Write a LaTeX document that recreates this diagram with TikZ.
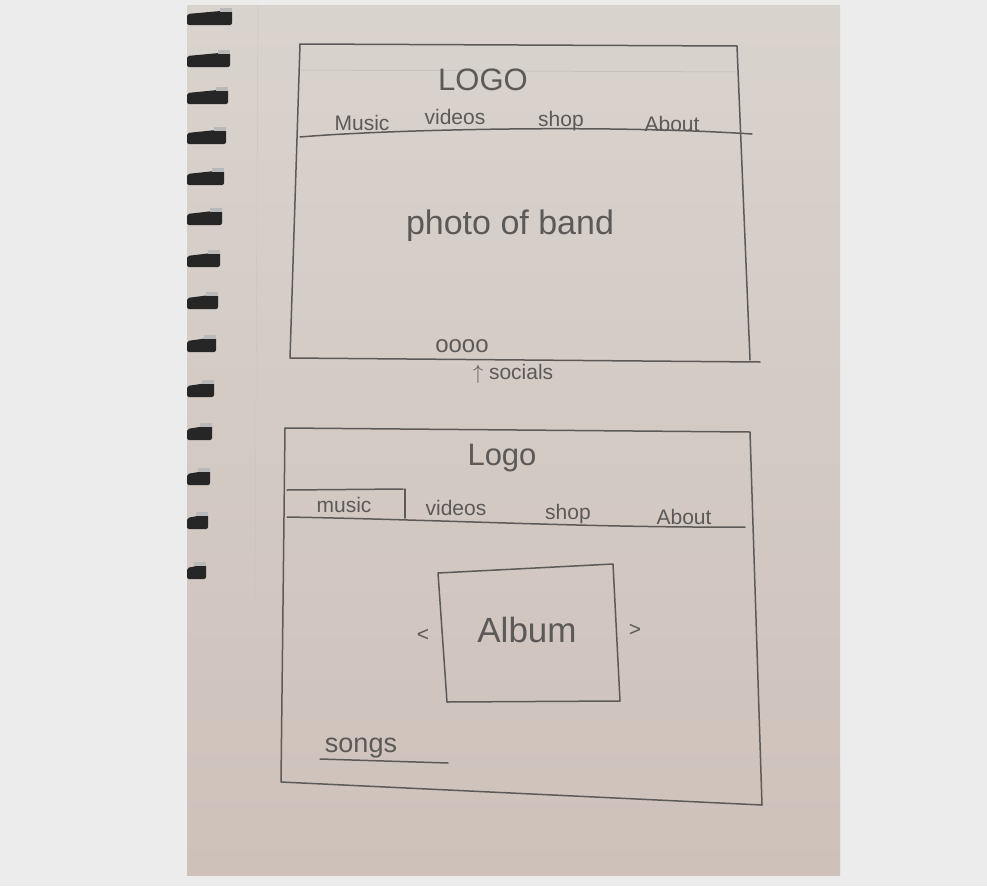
\documentclass[tikz,border=0pt]{standalone}
\usepackage{fontspec}
\setmainfont{Liberation Sans}
\usepackage{tikz}
\usetikzlibrary{positioning, calc}

\definecolor{paper}{HTML}{D9D3CE}
\definecolor{paperlow}{HTML}{CEC1BA}
\definecolor{pencil}{HTML}{5C5A58}
\definecolor{backdrop}{HTML}{ECECEC}

\begin{document}
\begin{tikzpicture}[x=1pt, y=-1pt,
                pen/.style={draw=pencil, line width=1.5pt, line join=round, line cap=round},
                faint/.style={draw=paper!88!black, line width=0.5pt},
                hand/.style={text=pencil, inner sep=0pt, font=\fontsize{21}{24}\selectfont},
                title/.style={hand, font=\fontsize{31}{34}\selectfont},
                ring/.style={fill=black!85, rounded corners=2pt},
            ]
            \useasboundingbox (0,0) rectangle (987,886);
            \fill[backdrop] (0,0) rectangle (987,886);

            % Page of the sketchbook:
            \shade[top color=paper, bottom color=paperlow] (187,5) rectangle (840,875);
            \draw[faint, densely dotted] (258,5) -- (255,600);

            % Spiral binding:
            \foreach \yy/\xr in {18/232, 60/230, 97/228, 137/226, 178/224, 218/222, 260/220,
                                 302/218, 345/216, 390/214, 433/212, 478/210, 522/208, 572/206} {
                \fill[ring] (187,\yy-4) -- (\xr,\yy-8) -- (\xr,\yy+7) -- (187,\yy+7) -- cycle;
                \fill[gray!55] (\xr-12,\yy-10) rectangle (\xr,\yy-6);
            }

            % Home page frame:
            \draw[pen] (300,44) -- (737,46) -- (750,360);
            \draw[pen] (300,44) -- (290,358) -- (760,362);
            \draw[pen] (300,137) .. controls (380,130) and (600,124) .. (752,134);
            \draw[faint] (300,70) -- (737,72);

            \node[title] (logo1) at (483,80) {LOGO};
            \node[hand] (music1)  at (362,123) {Music};
            \node[hand] (videos1) at (455,117) {videos};
            \node[hand] (shop1)   at (561,121) {shop};
            \node[hand] (about1)  at (672,124) {About};
            \node[title, font=\fontsize{34}{38}\selectfont] (photo) at (510,226) {photo of band};
            \node[hand, font=\fontsize{24}{26}\selectfont] (icons) at (462,346) {oooo};
            \node[hand] (socials) at (513,374) {$\uparrow$ socials};

            % Music page frame:
            \draw[pen] (285,428) -- (750,432) -- (762,805);
            \draw[pen] (285,428) -- (281,782) -- (762,805);
            \draw[pen] (287,517) .. controls (450,520) and (600,528) .. (745,527);
            \draw[pen] (287,490) -- (403,489);
            \draw[pen] (405,489) -- (405,518);

            \node[title] (logo2) at (502,458) {Logo};
            \node[hand] (music2)  at (344,505) {music};
            \node[hand] (videos2) at (456,508) {videos};
            \node[hand] (shop2)   at (568,514) {shop};
            \node[hand] (about2)  at (684,517) {About};

            % Album carousel:
            \draw[pen] (438,573) -- (613,564) -- (620,701) -- (447,702) -- cycle;
            \node[title, font=\fontsize{35}{38}\selectfont] (album) at (527,630) {Album};
            \node[hand] (prev) at (423,635) {<};
            \node[hand] (next) at (635,630) {>};

            % Song list:
            \node[hand, font=\fontsize{27}{29}\selectfont] (songs) at (361,748) {songs};
            \draw[pen] (320,759) -- (448,763);
        \end{tikzpicture}
\end{document}
